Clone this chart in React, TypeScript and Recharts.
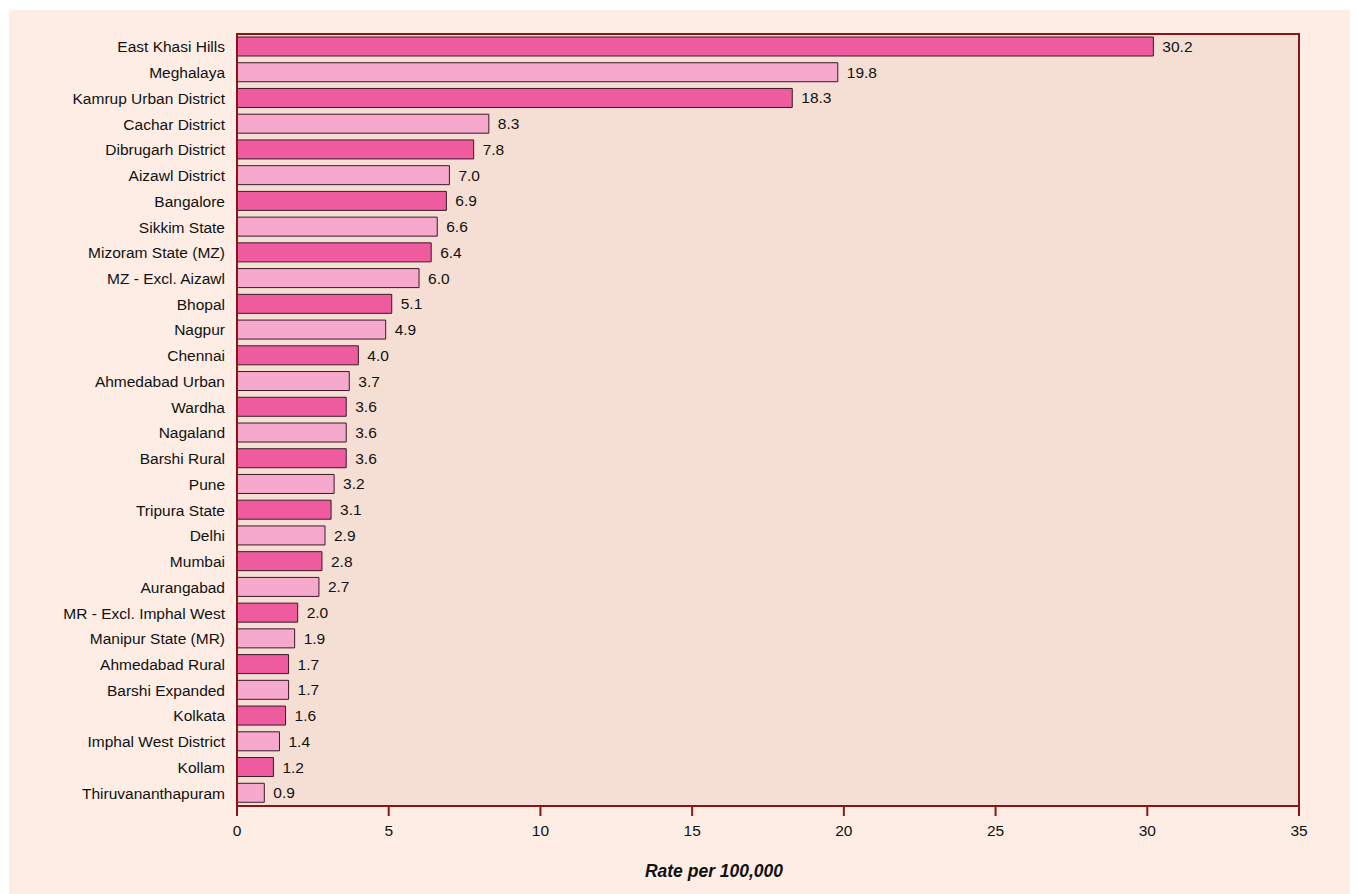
import React from "react";
import { BarChart, Bar, XAxis, YAxis, CartesianGrid, Cell, LabelList, Label, ReferenceArea } from "recharts";

const categories = [
  "East Khasi Hills", "Meghalaya", "Kamrup Urban District", "Cachar District", "Dibrugarh District",
  "Aizawl District", "Bangalore", "Sikkim State", "Mizoram State (MZ)", "MZ - Excl. Aizawl",
  "Bhopal", "Nagpur", "Chennai", "Ahmedabad Urban", "Wardha", "Nagaland", "Barshi Rural", "Pune",
  "Tripura State", "Delhi", "Mumbai", "Aurangabad", "MR - Excl. Imphal West", "Manipur State (MR)",
  "Ahmedabad Rural", "Barshi Expanded", "Kolkata", "Imphal West District", "Kollam", "Thiruvananthapuram",
];
const rates = [
  30.2, 19.8, 18.3, 8.3, 7.8, 7.0, 6.9, 6.6, 6.4, 6.0, 5.1, 4.9, 4.0, 3.7, 3.6, 3.6, 3.6, 3.2,
  3.1, 2.9, 2.8, 2.7, 2.0, 1.9, 1.7, 1.7, 1.6, 1.4, 1.2, 0.9,
];
const xTicks = [0, 5, 10, 15, 20, 25, 30, 35];

const data = categories.map((name, i) => ({ name, value: rates[i] }));

const DARK = "#ef5b9f";
const LIGHT = "#f6a9cc";
const RED = "#8b1414";
const FONT = "'Liberation Sans', Arial, Helvetica, sans-serif";

export default function App() {
  return (
    <div style={{ marginLeft: 1, marginTop: 2, width: 1349, height: 884, background: "#fdede5", fontFamily: FONT }}>
      <BarChart
        width={1349}
        height={884}
        data={data}
        layout="vertical"
        margin={{ top: 24, right: 59, bottom: 17, left: 0 }}
        barSize={19}
      >
        <CartesianGrid fill="#f5dfd4" horizontal={false} vertical={false} />
        <XAxis
          type="number"
          domain={[0, 35]}
          ticks={xTicks}
          axisLine={{ stroke: RED, strokeWidth: 2 }}
          tickLine={{ stroke: RED, strokeWidth: 2 }}
          tickSize={10}
          tickMargin={9}
          tick={{ fill: "#111", fontSize: 15.5, fontFamily: FONT }}
          height={71}
        >
          <Label
            value="Rate per 100,000"
            position="insideBottom"
            offset={0}
            dx={-54}
            style={{ fontWeight: "bold", fontStyle: "italic", fontSize: 17.5, fill: "#111", fontFamily: FONT }}
          />
        </XAxis>
        <YAxis
          type="category"
          dataKey="name"
          width={228}
          axisLine={{ stroke: RED, strokeWidth: 2 }}
          tickLine={false}
          tickSize={0}
          tickMargin={12}
          interval={0}
          tick={{ fill: "#111", fontSize: 15.5, fontFamily: FONT }}
        />
        <ReferenceArea x1={0} x2={35} fill="none" stroke={RED} strokeWidth={2} ifOverflow="visible" />
        <Bar dataKey="value" stroke="#3a1a28" strokeWidth={1} isAnimationActive={false}>
          {data.map((d, i) => (
            <Cell key={d.name} fill={i % 2 === 0 ? DARK : LIGHT} />
          ))}
          <LabelList
            dataKey="value"
            position="right"
            offset={9}
            formatter={(v: number) => Number(v).toFixed(1)}
            style={{ fill: "#111", fontSize: 15.5, fontFamily: FONT }}
          />
        </Bar>
      </BarChart>
    </div>
  );
}
